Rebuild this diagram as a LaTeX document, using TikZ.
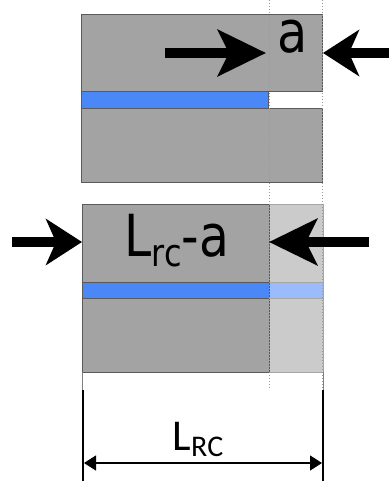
\documentclass[tikz,border=0pt]{standalone}
\usepackage{fontspec}
\setmainfont{DejaVu Sans}
\newfontfamily\carl{Carlito}
\usetikzlibrary{arrows.meta}
\definecolor{blk}{HTML}{A3A3A3}
\definecolor{blkl}{HTML}{CBCBCB}
\definecolor{edgec}{HTML}{5A5A5A}
\definecolor{blu}{HTML}{4A88F8}
\definecolor{blul}{HTML}{9BBBFB}
\tikzset{
  slab/.style={draw=edgec, line width=0.8pt},
  guide/.style={draw=gray!80, dotted, line width=1pt},
  bigarrow/.style={line width=10.5pt, -{Stealth[length=48pt,width=46pt,inset=11pt]}},
  shortarrow/.style={line width=10.5pt, -{Stealth[length=36pt,width=46pt,inset=10pt]}},
  dimline/.style={line width=1.3pt, {Triangle[length=12pt,width=15pt]}-{Triangle[length=12pt,width=15pt]}},
  lbl/.style={inner sep=0pt, font=\fontsize{58}{62}\selectfont}
}
\begin{document}
\begin{tikzpicture}[x=1pt,y=-1pt]
\useasboundingbox (0,0) rectangle (388,481);
% top sample
\fill[blk] (81,14) rectangle (322,91);
\fill[blk] (81,108) rectangle (322,182);
\fill[blu] (81,91) rectangle (268,108);
\draw[slab] (81,14) rectangle (322,91);
\draw[slab] (81,108) rectangle (322,182);
\draw[slab] (81,91) rectangle (268,108);
% bottom sample
\fill[blk] (82,204) rectangle (269,282);
\fill[blk] (82,298) rectangle (269,372);
\fill[blu] (82,282) rectangle (269,298);
\fill[blkl] (269,204) rectangle (323,282);
\fill[blkl] (269,298) rectangle (323,372);
\fill[blul] (269,282) rectangle (323,298);
\draw[slab] (82,204) rectangle (269,372);
\draw[slab] (82,282) -- (269,282) (82,298) -- (269,298);
\draw[draw=gray!70, line width=0.8pt] (269,204) -- (323,204) -- (323,372) -- (269,372)
  (269,282) -- (323,282) (269,298) -- (323,298);
% guides
\coordinate (g1t) at (269,0); \coordinate (g1b) at (269,390);
\coordinate (g2t) at (322,0); \coordinate (g2b) at (322,390);
\draw[guide] (g1t) -- (g1b);
\draw[guide] (g2t) -- (g2b);
% arrows
\coordinate (a1s) at (165,53); \coordinate (a1e) at (266,53);
\coordinate (a2s) at (390,53); \coordinate (a2e) at (323,53);
\coordinate (a3s) at (12,242); \coordinate (a3e) at (82,242);
\coordinate (a4s) at (369,242); \coordinate (a4e) at (269,242);
\draw[bigarrow] (a1s) -- (a1e);
\draw[shortarrow] (a2s) -- (a2e);
\draw[shortarrow] (a3s) -- (a3e);
\draw[bigarrow] (a4s) -- (a4e);
\node[lbl, anchor=base] (la) at (293,53) {\scalebox{0.85}[1]{a}};
\node[lbl, anchor=base] (lrca) at (177,256) {\scalebox{0.84}[1]{L\raisebox{-10pt}{\fontsize{38}{40}\selectfont rc}-a}};
% dimension
\draw[gray, line width=1pt] (82,372) -- (82,390) (323,372) -- (323,390);
\coordinate (d1t) at (83,390); \coordinate (d1b) at (83,481);
\coordinate (d2t) at (323,390); \coordinate (d2b) at (323,481);
\draw[line width=1.8pt] (d1t) -- (d1b) (d2t) -- (d2b);
\coordinate (dl) at (84,463); \coordinate (dr) at (322,463);
\draw[dimline] (dl) -- (dr);
\node[inner sep=0pt, anchor=base, font=\carl\fontsize{44}{50}\selectfont] (lrc) at (198,450) {L\raisebox{-6pt}{\fontsize{30}{34}\selectfont RC}};
\end{tikzpicture}
\end{document}
